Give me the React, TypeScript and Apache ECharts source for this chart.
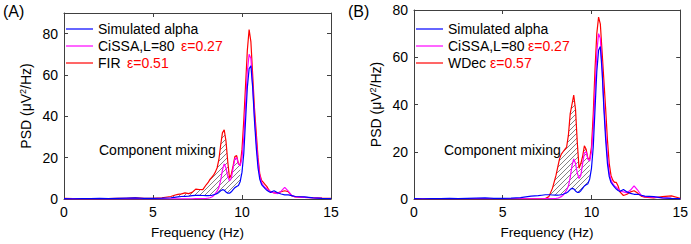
import React, { useEffect, useRef } from 'react';
import * as echarts from 'echarts';

// Frequency grid (Hz) shared by every curve
const freq = [
  0, 0.5, 1, 1.5, 2, 2.5, 3, 3.5, 4, 4.5, 5, 5.5, 6,
  6.2, 6.4, 6.6, 6.8, 7, 7.2, 7.4, 7.6, 7.8, 8,
  8.1, 8.2, 8.3, 8.4, 8.5, 8.6, 8.7, 8.8, 8.9, 9,
  9.1, 9.2, 9.3, 9.4, 9.5, 9.6, 9.7, 9.8, 9.9, 10,
  10.1, 10.2, 10.3, 10.4, 10.5, 10.6, 10.7, 10.8, 10.9, 11,
  11.1, 11.2, 11.3, 11.4, 11.5,
  11.6, 11.8, 12, 12.2, 12.4, 12.6, 12.8, 13,
  13.5, 14, 14.5, 15,
];

// Simulated alpha (blue)
const alphaPSD = [
  0.2, 0.1, 0.2, 0.2, 0.3, 0.2, 0.3, 0.4, 0.5, 0.3, 0.3, 0.4, 0.6,
  0.8, 1.0, 1.2, 1.3, 1.4, 1.6, 1.8, 1.8, 1.7, 1.6,
  1.6, 1.7, 1.8, 2.0, 2.3, 2.6, 3.2, 4.0, 4.5, 4.3,
  3.4, 2.8, 2.8, 3.5, 4.5, 5.5, 6.0, 6.5, 8.5, 13,
  22, 38, 54, 63, 64.5, 54, 38, 25, 15, 9.5,
  7, 6, 5, 4.2, 3.6,
  3.2, 4.0, 3.0, 2.4, 2.0, 2.0, 1.6, 1.2,
  1.0, 0.5, 0.3, 0.2,
];

// CiSSA, L=80 (magenta)
const cissaPSD = [
  0.1, 0.1, 0.1, 0.1, 0.1, 0.1, 0.1, 0.1, 0.1, 0.1, 0.1, 0.1, 0.1,
  0.1, 0.1, 0.1, 0.1, 0.1, 0.1, 0.2, 0.2, 0.2, 0.3,
  0.4, 0.6, 1.0, 1.6, 2.6, 3.8, 5.5, 9, 14, 17,
  15, 11, 8.7, 10, 15, 19.5, 20, 17, 16, 20,
  30, 46, 62, 70, 68, 55, 40, 28, 18, 11,
  8, 6.5, 5.5, 5, 4.2,
  3.6, 3.0, 2.6, 3.8, 5.6, 3.8, 1.6, 1.0,
  0.8, 0.5, 0.3, 0.2,
];

// FIR (red, panel A)
const firPSD = [
  0.3, 0.2, 0.2, 0.2, 0.2, 0.2, 0.3, 0.3, 0.5, 0.3, 0.3, 0.6, 1.2,
  1.8, 2.2, 2.5, 3.0, 2.6, 3.2, 4.8, 4.6, 4.5, 7,
  8, 9.5, 10.5, 11.5, 13, 15, 19, 26, 32, 33.5,
  28, 18, 10, 12, 16, 20.5, 21, 17, 16.5, 24,
  38, 55, 72, 82, 76, 60, 44, 32, 20, 12,
  9, 8, 7, 6, 4.5,
  3.5, 3, 3, 3.5, 4, 3.5, 1.5, 1,
  0.8, 0.6, 0.4, 0.3,
];

// WDec (red, panel B)
const wdecPSD = [
  0.1, 0.1, 0.1, 0.1, 0.1, 0.1, 0.1, 0.1, 0.1, 0.1, 0.1, 0.1, 0.1,
  0.1, 0.1, 0.1, 0.1, 0.1, 0.1, 0.2, 1.0, 4.5, 10,
  13.5, 17, 19, 20, 21, 22, 27, 36, 40, 44,
  38, 24, 13, 15, 18, 22.5, 21, 17, 17, 22,
  36, 55, 70, 77, 74, 62, 50, 38, 25, 15,
  10, 8, 7, 7, 5.5,
  3, 1.5, 2, 3, 3.5, 2.5, 1.2, 0.8,
  0.5, 1, 1.3, 0.3,
];

const xTicks = [0, 5, 10, 15];
const yTicks = [0, 20, 40, 60, 80];
const yMaxA = 90;
const yMaxB = 80;
const mixRangeA = [6.0, 9.9];
const mixRangeB = [7.6, 9.9];
const errCissa = 'ε=0.27';
const errFir = 'ε=0.51';
const errWdec = 'ε=0.57';

const FONT = '"Liberation Sans", Arial, Helvetica, sans-serif';
const FS = 13.5;
const FL = 14;
const AXIS_COLOR = '#404040';
const BLUE = '#0000ff';
const MAGENTA = '#ff00ff';
const RED = '#ff0000';

const hatchSvg =
  '<svg xmlns="http://www.w3.org/2000/svg" width="5" height="5">' +
  '<path d="M-1,1L1,-1M0,5L5,0M4,6L6,4" stroke="#404040" stroke-width="0.65" fill="none"/></svg>';
const hatch: any = {
  image: 'data:image/svg+xml;charset=utf-8,' + encodeURIComponent(hatchSvg),
  repeat: 'repeat',
  imageWidth: 5,
  imageHeight: 5,
};

function pairs(ys: number[]) {
  return freq.map((f, i) => [f, ys[i]]);
}

function band(upper: number[], lower: number[], range: number[]) {
  const idx = freq.map((_, i) => i).filter((i) => freq[i] >= range[0] - 1e-9 && freq[i] <= range[1] + 1e-9);
  return {
    top: idx.map((i) => [freq[i], upper[i]]),
    bottom: idx.map((i) => [freq[i], lower[i]]),
  };
}

function bandSeries(b: { top: number[][]; bottom: number[][] }, gi: number) {
  return {
    type: 'custom',
    xAxisIndex: gi * 2,
    yAxisIndex: gi * 2,
    silent: true,
    z: 1,
    clip: true,
    data: b.top,
    renderItem: (params: any, api: any) => {
      if (params.dataIndex !== 0) return null;
      const pts = b.top
        .map((p) => api.coord(p))
        .concat(b.bottom.slice().reverse().map((p) => api.coord(p)));
      return { type: 'polygon', shape: { points: pts }, style: { fill: hatch, stroke: 'none' } };
    },
  };
}

function lineSeries(name: string, ys: number[], color: string, gi: number) {
  return {
    type: 'line',
    name,
    xAxisIndex: gi * 2,
    yAxisIndex: gi * 2,
    data: pairs(ys),
    symbol: 'none',
    showSymbol: false,
    smooth: false,
    z: 3,
    lineStyle: { color, width: 1.2 },
    itemStyle: { color },
  };
}

function xAxes(gi: number) {
  const common = {
    type: 'value',
    gridIndex: gi,
    min: 0,
    max: 15,
    interval: 5,
    splitLine: { show: false },
    axisLine: { show: true, onZero: false, lineStyle: { color: AXIS_COLOR, width: 1 } },
    axisTick: { show: true, inside: true, length: 4, customValues: xTicks, lineStyle: { color: AXIS_COLOR } },
  };
  return [
    {
      ...common,
      position: 'bottom',
      axisLabel: { show: true, customValues: xTicks, margin: 6, color: '#000', fontSize: FL, fontFamily: FONT },
      name: 'Frequency (Hz)',
      nameLocation: 'middle',
      nameGap: 26,
      nameTextStyle: { color: '#000', fontSize: FS, fontFamily: FONT },
    },
    { ...common, position: 'top', axisLabel: { show: false } },
  ];
}

function yAxes(gi: number, max: number) {
  const common = {
    type: 'value',
    gridIndex: gi,
    min: 0,
    max,
    interval: 20,
    splitLine: { show: false },
    axisLine: { show: true, onZero: false, lineStyle: { color: AXIS_COLOR, width: 1 } },
    axisTick: { show: true, inside: true, length: 4, customValues: yTicks, lineStyle: { color: AXIS_COLOR } },
  };
  return [
    {
      ...common,
      position: 'left',
      axisLabel: { show: true, customValues: yTicks, margin: 6, color: '#000', fontSize: FL, fontFamily: FONT },
      name: '{a|PSD (μV}{s|2}{a|/Hz)}',
      nameLocation: 'middle',
      nameGap: 30,
      nameTextStyle: {
        color: '#000',
        fontSize: 14,
        fontFamily: FONT,
        rich: {
          a: { fontSize: 14, fontFamily: FONT, color: '#000', lineHeight: 16, verticalAlign: 'middle' },
          s: { fontSize: 9, fontFamily: FONT, color: '#000', lineHeight: 9, verticalAlign: 'top' },
        },
      },
    },
    { ...common, position: 'right', axisLabel: { show: false } },
  ];
}

function legend(left: number, methodName: string, nameW1: number, nameW2: number, err2: string) {
  return {
    orient: 'vertical',
    left,
    top: 22,
    icon: 'rect',
    itemWidth: 27,
    itemHeight: 1.2,
    itemGap: 3,
    selectedMode: false,
    padding: 0,
    data: ['Simulated alpha', 'CiSSA,L=80', methodName],
    textStyle: {
      color: '#000',
      fontSize: FL,
      fontFamily: FONT,
      lineHeight: 14,
      rich: {
        c: { width: nameW1, color: '#000', fontSize: FL, fontFamily: FONT, lineHeight: 14 },
        m: { width: nameW2, color: '#000', fontSize: FL, fontFamily: FONT, lineHeight: 14 },
        e: { color: RED, fontSize: FL, fontFamily: FONT, lineHeight: 14 },
      },
    },
    formatter: (name: string) => {
      if (name === 'CiSSA,L=80') return `{c|${name}}{e|${errCissa}}`;
      if (name === methodName) return `{m|${name}}{e|${err2}}`;
      return name;
    },
  };
}

export default function App() {
  const ref = useRef<HTMLDivElement>(null);

  useEffect(() => {
    if (!ref.current) return;
    const chart = echarts.init(ref.current, undefined, { renderer: 'svg' });
    const bandA = band(firPSD, alphaPSD, mixRangeA);
    const bandB = band(wdecPSD, alphaPSD, mixRangeB);

    const textStyle = (text: string, size: number) => ({
      text,
      fill: '#000',
      fontSize: size,
      fontFamily: FONT,
      verticalAlign: 'middle',
      align: 'left',
    });

    chart.setOption({
      animation: false,
      backgroundColor: '#ffffff',
      grid: [
        { left: 64, top: 13, width: 267, height: 188, containLabel: false },
        { left: 414, top: 10, width: 267, height: 191, containLabel: false },
      ],
      xAxis: [...xAxes(0), ...xAxes(1)],
      yAxis: [...yAxes(0, yMaxA), ...yAxes(1, yMaxB)],
      legend: [
        legend(66, 'FIR', 83, 29, errFir),
        legend(416, 'WDec', 80, 42, errWdec),
      ],
      series: [
        bandSeries(bandA, 0),
        lineSeries('FIR', firPSD, RED, 0),
        lineSeries('CiSSA,L=80', cissaPSD, MAGENTA, 0),
        lineSeries('Simulated alpha', alphaPSD, BLUE, 0),
        bandSeries(bandB, 1),
        lineSeries('WDec', wdecPSD, RED, 1),
        lineSeries('CiSSA,L=80', cissaPSD, MAGENTA, 1),
        lineSeries('Simulated alpha', alphaPSD, BLUE, 1),
      ],
      graphic: [
        { type: 'text', left: 3, top: 3, style: textStyle('(A)', 16) },
        { type: 'text', left: 348, top: 3, style: textStyle('(B)', 16) },
        { type: 'text', x: 99, y: 150, style: textStyle('Component mixing', FL) },
        { type: 'text', x: 444, y: 150, style: textStyle('Component mixing', FL) },
      ],
    });
    return () => chart.dispose();
  }, []);

  return (
    <div
      ref={ref}
      style={{ position: 'absolute', left: 0, top: 0, width: 691, height: 244, background: '#fff' }}
    />
  );
}
